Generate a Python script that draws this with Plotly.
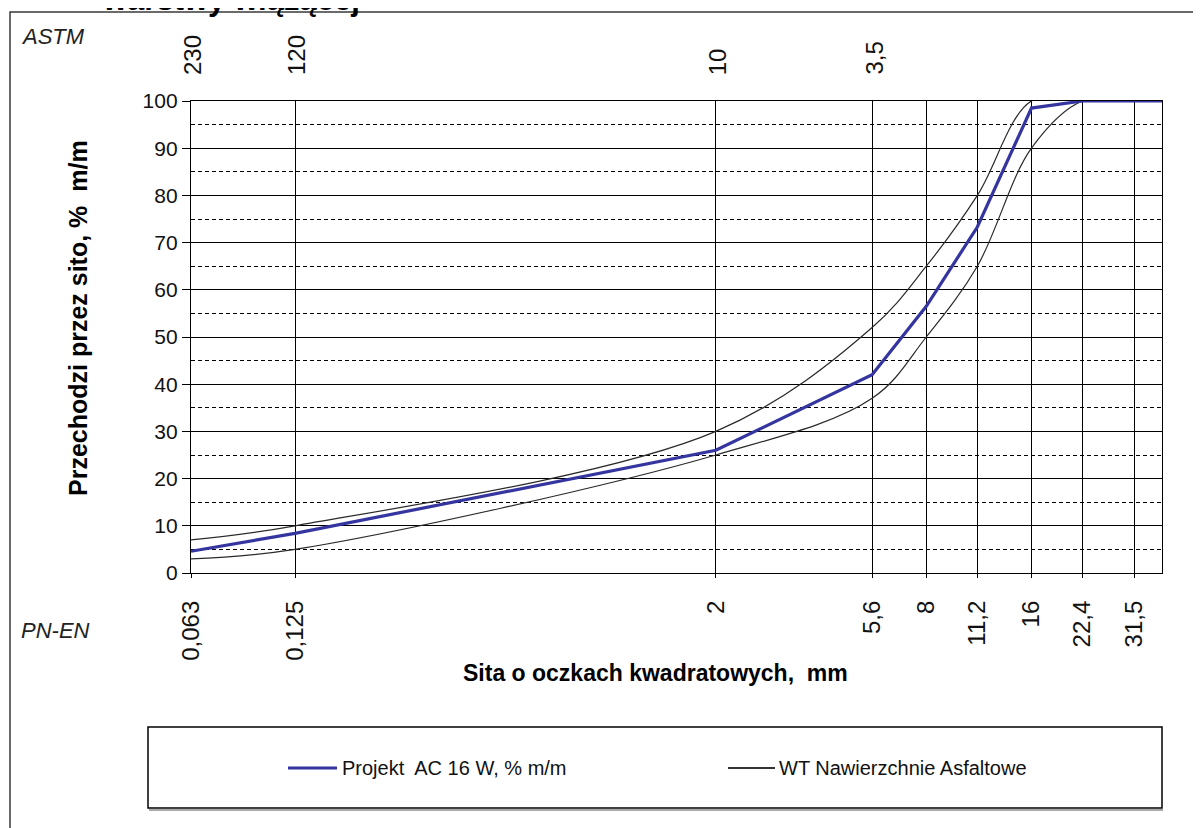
import math
import plotly.graph_objects as go

# ---------------- data ----------------
sieves = [0.063, 0.125, 2, 5.6, 8, 11.2, 16, 22.4, 31.5, 45]
projekt = [4.6, 8.4, 26.0, 42.0, 56.5, 73.3, 98.5, 100, 100, 100]
wt_lower = [3, 5, 25, 37, 50, 65, 90, 100, 100, 100]
wt_upper = [7, 10, 30, 52, 65, 80, 100, 100, 100, 100]

pn_ticks = [0.063, 0.125, 2, 5.6, 8, 11.2, 16, 22.4, 31.5]
pn_labels = ["0,063", "0,125", "2", "5,6", "8", "11,2", "16", "22,4", "31,5"]
astm_ticks = [0.063, 0.125, 2, 5.6]
astm_labels = ["230", "120", "10", "3,5"]

y_ticks = list(range(0, 101, 10))

# ---------------- geometry helpers ----------------
OFF = 8  # page body margin
W, H = 1201 - OFF, 828 - OFF
L, R, T, B = 191, 1162, 101, 573   # plot area in reference page pixels
FONT = "Arial, Liberation Sans, sans-serif"


def px(x):
    return (x - L) / (R - L)


def py(y):
    return (B - y) / (B - T)


x_lo = math.log10(0.063)
x_hi = x_lo + (R - L) / 349.5

fig = go.Figure()

fig.add_trace(go.Scatter(
    x=sieves, y=wt_lower, mode="lines", line=dict(color="#2a2a2a", width=1.2, shape="spline"),
    showlegend=False, hoverinfo="skip"))
fig.add_trace(go.Scatter(
    x=sieves, y=wt_upper, mode="lines", line=dict(color="#2a2a2a", width=1.2, shape="spline"),
    showlegend=False, hoverinfo="skip"))
fig.add_trace(go.Scatter(
    x=sieves, y=projekt, mode="lines", line=dict(color="#3535a0", width=3.2),
    showlegend=False))

fig.update_xaxes(
    type="log", range=[x_lo, x_hi],
    tickvals=pn_ticks, ticktext=pn_labels, tickangle=-90,
    tickfont=dict(family=FONT, size=24, color="#111"),
    showgrid=True, gridcolor="black", gridwidth=1.3,
    showline=True, linecolor="black", linewidth=1.3, mirror=True,
    ticks="outside", ticklen=4, tickcolor="black", ticklabelstandoff=13,
    zeroline=False,
)
fig.update_yaxes(
    range=[0, 100], tickvals=y_ticks,
    tickfont=dict(family=FONT, size=21, color="#111"),
    showgrid=True, gridcolor="black", gridwidth=1.3,
    minor=dict(dtick=5, showgrid=True, gridcolor="black", griddash="4px,3px", gridwidth=1.2),
    showline=True, linecolor="black", linewidth=1.3, mirror=True,
    ticks="outside", ticklen=8, tickcolor="black",
    zeroline=False,
)

shapes = []
annotations = []

# outer chart frame (extends off canvas on right/bottom)
shapes.append(dict(type="rect", xref="paper", yref="paper",
                   x0=px(10), x1=px(1215), y0=py(12), y1=py(845),
                   line=dict(color="#3a3a3a", width=1.5), layer="below"))

# legend box
shapes.append(dict(type="rect", xref="paper", yref="paper",
                   x0=px(148), x1=px(1162), y0=py(727), y1=py(808),
                   line=dict(color="black", width=1.5)))
shapes.append(dict(type="line", xref="paper", yref="paper",
                   x0=px(149), x1=px(1163), y0=py(810), y1=py(810),
                   line=dict(color="#555", width=1)))
# legend samples
shapes.append(dict(type="line", xref="paper", yref="paper",
                   x0=px(288), x1=px(337), y0=py(768), y1=py(768),
                   line=dict(color="#3535a0", width=3.2)))
shapes.append(dict(type="line", xref="paper", yref="paper",
                   x0=px(728), x1=px(775), y0=py(768), y1=py(768),
                   line=dict(color="#333", width=2)))
annotations.append(dict(xref="paper", yref="paper", x=px(340), y=py(768),
                        xanchor="left", yanchor="middle", showarrow=False,
                        text="Projekt  AC 16 W, % m/m",
                        font=dict(family=FONT, size=20, color="#111")))
annotations.append(dict(xref="paper", yref="paper", x=px(777), y=py(768),
                        xanchor="left", yanchor="middle", showarrow=False,
                        text="WT Nawierzchnie Asfaltowe",
                        font=dict(family=FONT, size=20, color="#111")))

# ASTM top labels
for v, lab in zip(astm_ticks, astm_labels):
    annotations.append(dict(xref="x", yref="paper", x=math.log10(v), y=py(77),
                            xanchor="center", yanchor="bottom", xshift=2,
                            textangle=-90, showarrow=False, text=lab,
                            font=dict(family=FONT, size=24, color="#111")))

annotations.append(dict(xref="paper", yref="paper", x=px(19), y=py(37),
                        xanchor="left", yanchor="middle", showarrow=False,
                        text="<i>ASTM</i>", font=dict(family=FONT, size=22, color="#222")))
annotations.append(dict(xref="paper", yref="paper", x=px(19), y=py(630),
                        xanchor="left", yanchor="middle", showarrow=False,
                        text="<i>PN-EN</i>", font=dict(family=FONT, size=22, color="#222")))

# axis titles
annotations.append(dict(xref="paper", yref="paper", x=px(655), y=py(673),
                        xanchor="center", yanchor="middle", showarrow=False,
                        text="<b>Sita o oczkach kwadratowych,  mm</b>",
                        font=dict(family=FONT, size=23, color="black")))
annotations.append(dict(xref="paper", yref="paper", x=px(78), y=py(318),
                        xanchor="center", yanchor="middle", showarrow=False,
                        textangle=-90,
                        text="<b>Przechodzi przez sito, %  m/m</b>",
                        font=dict(family=FONT, size=25, color="black")))

# clipped title at the very top
annotations.append(dict(xref="paper", yref="paper", x=px(100), y=py(19),
                        xanchor="left", yanchor="bottom", showarrow=False,
                        text="<b>warstwy wiążącej</b>",
                        font=dict(family=FONT, size=31, color="black")))

fig.update_layout(
    width=W, height=H,
    margin=dict(l=L - OFF, r=(1201 - OFF) - (R - OFF), t=T - OFF, b=(828 - OFF) - (B - OFF), pad=0),
    paper_bgcolor="white", plot_bgcolor="white",
    showlegend=False,
    shapes=shapes, annotations=annotations,
    font=dict(family=FONT),
)

fig.write_html("out.html")
